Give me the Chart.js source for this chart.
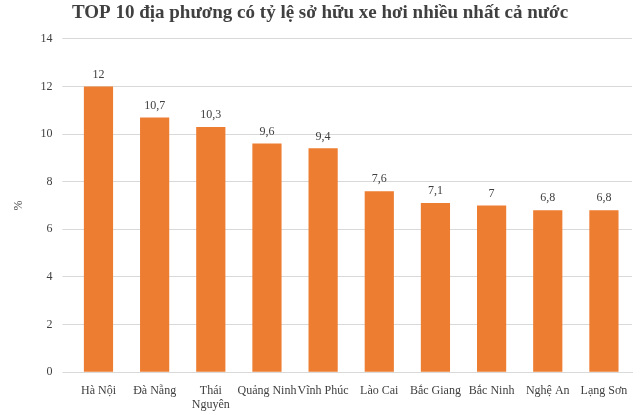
<!DOCTYPE html>
<html><head><meta charset="utf-8">
<script src="https://cdn.jsdelivr.net/npm/chart.js@4"></script>
<style>body{margin:0;background:#fff}#w{width:640px;height:415px}</style>
</head><body><div id="w"><canvas id="c"></canvas></div>
<script>
const categories=["Hà Nội","Đà Nẵng",["Thái","Nguyên"],"Quảng Ninh","Vĩnh Phúc","Lào Cai","Bắc Giang","Bắc Ninh","Nghệ An","Lạng Sơn"];
const values=[12,10.7,10.3,9.6,9.4,7.6,7.1,7,6.8,6.8];
const yTicks=[0,2,4,6,8,10,12,14];
const labelPlugin={id:'lbl',afterDatasetsDraw(ch){const ctx=ch.ctx;const m=ch.getDatasetMeta(0);ctx.save();ctx.font='12px "Liberation Serif"';ctx.fillStyle='#404040';ctx.textAlign='center';ctx.textBaseline='bottom';m.data.forEach((b,i)=>{ctx.fillText(String(values[i]).replace('.',','),b.x,b.y-6);});ctx.restore();}};
new Chart(document.getElementById('c'),{type:'bar',
data:{labels:categories,datasets:[{data:values,backgroundColor:'#ED7D31',barPercentage:0.52,categoryPercentage:1}]},
options:{responsive:true,maintainAspectRatio:false,animation:false,
layout:{padding:{left:8,right:8,top:0,bottom:0}},
plugins:{legend:{display:false},tooltip:{enabled:false},
title:{display:true,text:'TOP 10 địa phương có tỷ lệ sở hữu xe hơi nhiều nhất cả nước',color:'#404040',font:{family:'Liberation Serif',size:19,weight:'bold'},padding:{top:2,bottom:14}}},
scales:{x:{grid:{display:false},border:{color:'#d9d9d9'},ticks:{color:'#404040',font:{family:'Liberation Serif',size:12},maxRotation:0,autoSkip:false}},
y:{min:0,max:14,afterBuildTicks(a){a.ticks=yTicks.map(v=>({value:v}));},grid:{color:'#d9d9d9'},border:{display:false},ticks:{color:'#404040',font:{family:'Liberation Serif',size:12},padding:10},
title:{display:true,text:'%',color:'#404040',font:{family:'Liberation Serif',size:12}}}}},
plugins:[labelPlugin]});
</script></body></html>
